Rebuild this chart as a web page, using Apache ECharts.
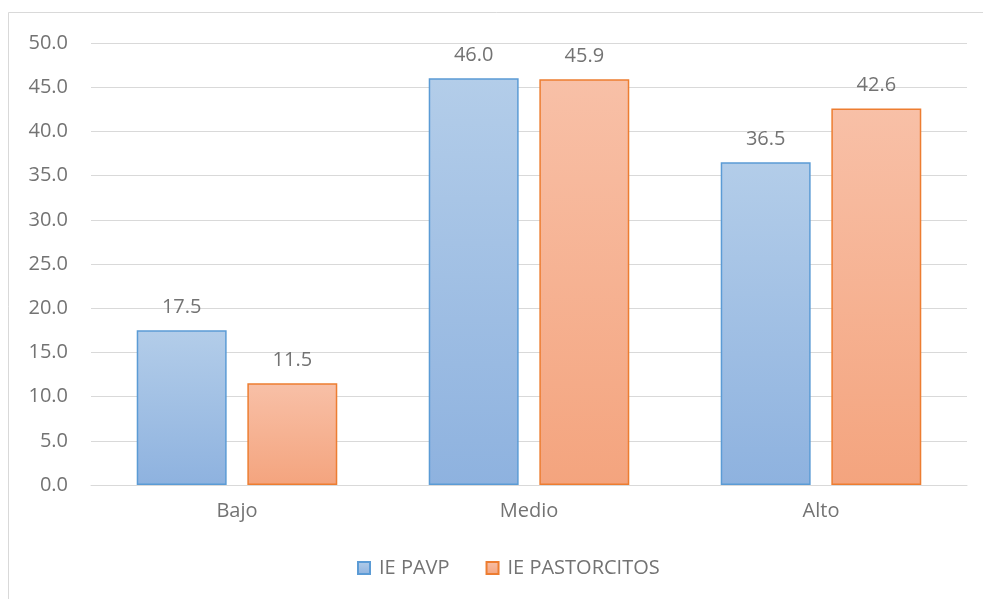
<!DOCTYPE html>
<html>
<head>
<meta charset="utf-8">
<script src="https://cdn.jsdelivr.net/npm/echarts@6/dist/echarts.min.js"></script>
<style>
  html, body { margin: 0; padding: 0; background: #ffffff; }
  #chart { width: 983px; height: 599px; }
</style>
</head>
<body>
<div id="chart"></div>
<script>
// categorías y valores (%)
const categories = ['Bajo', 'Medio', 'Alto'];
const seriesNames = ['IE PAVP', 'IE PASTORCITOS'];
const pavpValues = [17.5, 46.0, 36.5];
const pastorcitosValues = [11.5, 45.9, 42.6];

const chart = echarts.init(document.getElementById('chart'));

const fontFamily = 'Open Sans, Noto Sans, sans-serif';
const textColor = '#737373';

function gradient(top, bottom) {
  return new echarts.graphic.LinearGradient(0, 0, 0, 1, [
    { offset: 0, color: top },
    { offset: 1, color: bottom },
  ]);
}

const labelStyle = {
  show: true,
  position: 'top',
  distance: 13,
  color: textColor,
  fontSize: 20,
  fontFamily: fontFamily,
  formatter: (p) => p.value.toFixed(1),
};

chart.setOption({
  animation: false,
  backgroundColor: '#ffffff',
  graphic: [
    {
      type: 'rect',
      silent: true,
      shape: { x: 8.5, y: 12.5, width: 1000, height: 620 },
      style: { fill: 'none', stroke: '#d9d9d9', lineWidth: 1 },
    },
  ],
  grid: { left: 91, right: 16, top: 43, bottom: 114 },
  legend: {
    bottom: 16,
    left: 352,
    itemWidth: 12,
    itemHeight: 12,
    itemGap: 36,
    icon: 'rect',
    textStyle: { color: textColor, fontSize: 20, fontFamily: fontFamily, padding: [0, 0, 0, 4] },
    data: seriesNames,
  },
  xAxis: {
    type: 'category',
    data: categories,
    axisLine: { lineStyle: { color: '#d9d9d9' } },
    axisTick: { show: false },
    axisLabel: { color: textColor, fontSize: 20, fontFamily: fontFamily, margin: 16 },
  },
  yAxis: {
    type: 'value',
    min: 0,
    max: 50,
    interval: 5,
    axisLine: { show: false },
    axisTick: { show: false },
    axisLabel: {
      color: textColor,
      fontSize: 20,
      fontFamily: fontFamily,
      margin: 23,
      formatter: (v) => v.toFixed(1),
    },
    splitLine: { lineStyle: { color: '#d9d9d9' } },
  },
  series: [
    {
      name: seriesNames[0],
      type: 'bar',
      data: pavpValues,
      barWidth: '30.8%',
      barGap: '23%',
      itemStyle: {
        color: gradient('#b3cde9', '#8eb2df'),
        borderColor: '#5b9bd5',
        borderWidth: 1.5,
      },
      label: labelStyle,
    },
    {
      name: seriesNames[1],
      type: 'bar',
      data: pastorcitosValues,
      barWidth: '30.8%',
      itemStyle: {
        color: gradient('#f8c0a7', '#f4a47e'),
        borderColor: '#ed7d31',
        borderWidth: 1.5,
      },
      label: labelStyle,
    },
  ],
});
</script>
</body>
</html>
